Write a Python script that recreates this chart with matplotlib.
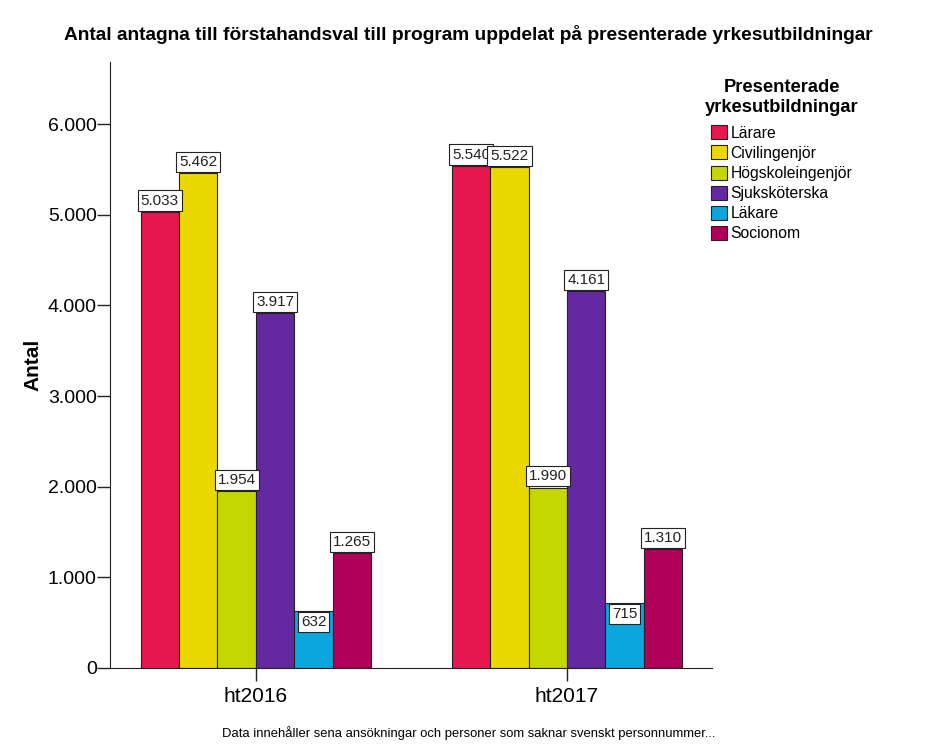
import numpy as np
import matplotlib.pyplot as plt

plt.rcParams['font.family'] = ['Liberation Sans', 'DejaVu Sans']

terms = ['ht2016', 'ht2017']
programs = ['Lärare', 'Civilingenjör', 'Högskoleingenjör', 'Sjuksköterska', 'Läkare', 'Socionom']
larare = [5033, 5540]
civilingenjor = [5462, 5522]
hogskoleingenjor = [1954, 1990]
sjukskoterska = [3917, 4161]
lakare = [632, 715]
socionom = [1265, 1310]
series = [larare, civilingenjor, hogskoleingenjor, sjukskoterska, lakare, socionom]
colors = ['#E8174F', '#EAD800', '#C5D700', '#6428A0', '#0BA6DD', '#B0005A']
inside = ['Läkare']  # labels drawn inside the bar top

def fmt(v):
    return f'{v:,}'.replace(',', '.')

fig = plt.figure(figsize=(9.37, 7.5), dpi=100)
ax = fig.add_axes([110/937, 82/750, 602/937, 606/750])

x = np.arange(len(terms))
w = 0.1235
box = dict(boxstyle='square,pad=0.2', fc='white', ec='#222222', lw=0.8)
for i, (name, vals, c) in enumerate(zip(programs, series, colors)):
    pos = x + (i - 2.5) * w
    ax.bar(pos, vals, width=w, color=c, edgecolor='#222222', linewidth=0.8, label=name, zorder=2)
    for p, v in zip(pos, vals):
        if name in inside:
            ax.annotate(fmt(v), (p, v), xytext=(0, -3), textcoords='offset points',
                        ha='center', va='top', fontsize=11, color='#222222', zorder=5, bbox=box)
        else:
            ax.annotate(fmt(v), (p, v), xytext=(0, 3), textcoords='offset points',
                        ha='center', va='bottom', fontsize=11, color='#222222', zorder=5, bbox=box)

ax.set_xlim(-0.469, 1.466)
ax.set_ylim(0, 6684)
ax.set_yticks([0, 1000, 2000, 3000, 4000, 5000, 6000])
ax.set_yticklabels([fmt(v) for v in [0, 1000, 2000, 3000, 4000, 5000, 6000]])
ax.set_xticks(x)
ax.set_xticklabels(terms)
ax.tick_params(axis='both', length=9.5, width=1, color='#222222')
ax.tick_params(axis='y', labelsize=14, pad=0)
ax.tick_params(axis='x', labelsize=15, pad=4)
for s in ['top', 'right']:
    ax.spines[s].set_visible(False)
for s in ['left', 'bottom']:
    ax.spines[s].set_color('#222222')
ax.set_ylabel('Antal', fontsize=15, fontweight='bold', labelpad=4)

fig.suptitle('Antal antagna till förstahandsval till program uppdelat på presenterade yrkesutbildningar',
             fontsize=13.8, fontweight='bold', x=0.5, y=0.966)

leg = fig.legend(loc='upper left', bbox_to_anchor=(694/937, 1 - 68/750), frameon=False,
                 title='Presenterade\nyrkesutbildningar', fontsize=11.3,
                 title_fontproperties={'weight': 'bold', 'size': 13.2},
                 handlelength=1.0, handleheight=1.0, handletextpad=0.2, labelspacing=0.3,
                 borderpad=0.2)
leg.get_title().set_multialignment('center')
leg._legend_box.sep = 7

fig.text(0.5, 1 - 733/750, 'Data innehåller sena ansökningar och personer som saknar svenskt personnummer...',
         ha='center', va='center', fontsize=9.4)

fig.savefig('out.png', dpi=100)
